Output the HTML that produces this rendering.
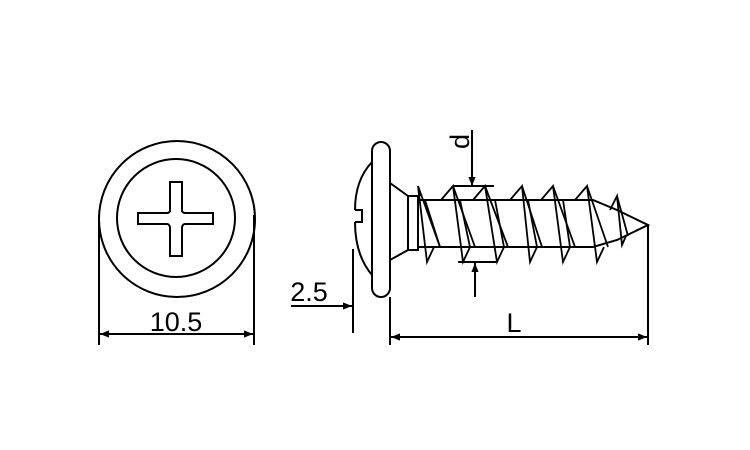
<!DOCTYPE html>
<html><head><style>body{margin:0;background:#fff}svg{display:block}</style></head><body>
<svg width="750" height="450" viewBox="0 0 750 450" xmlns="http://www.w3.org/2000/svg" font-family="Liberation Sans, sans-serif">
<defs>
<marker id="a" viewBox="0 0 10 10" refX="10" refY="5" markerWidth="12" markerHeight="9" markerUnits="userSpaceOnUse" orient="auto-start-reverse"><path d="M0,1 L10,5 L0,9 z" fill="#000"/></marker>
</defs>
<g fill="none" stroke="#000" stroke-width="2">
<circle cx="177" cy="219" r="78"/>
<circle cx="176" cy="218" r="59"/>
<path d="M170,182 H182 V211 Q183,213 185,213 H213 V224 H185 Q183,224 182,227 V256 H170 V227 Q169,224 167,224 H138 V213 H167 Q169,213 170,211 Z"/>
<line x1="99" y1="215" x2="99" y2="345"/>
<line x1="254" y1="215" x2="254" y2="345"/>
<line x1="100" y1="334" x2="253" y2="334" marker-start="url(#a)" marker-end="url(#a)"/>
<rect x="372" y="142" width="18" height="155" rx="9"/>
<path d="M372,162 Q355,180 355,210 M355,222 Q355,255 372,275"/>
<path d="M355,210 H362 V222 H355"/>
<path d="M390,183 L408,196 M390,260 L408,250"/>
<rect x="408" y="196" width="10" height="54"/>
<path d="M418,200 H593 L617,210 L648,225 L617,240 L593,247 H418"/>
<g stroke-width="1.8">
<path d="M420,196 L418,186 L427,262 L434,247 M418,186 L440,247"/>
<path d="M441,200 L453,186 L463,262 L470,247 M453,186 L475,247 M425,200 L440,247"/>
<path d="M473,200 L485,186 L497,262 L504,247 M485,186 L508,247 M460,200 L470,247"/>
<path d="M510,200 L522,186 L530,262 L537,247 M522,186 L542,247 M495,200 L504,247"/>
<path d="M541,200 L553,186 L563,262 L570,247 M553,186 L575,247 M528,200 L537,247"/>
<path d="M575,200 L587,186 L597,262 L604,247 M587,186 L608,247 M563,200 L570,247"/>
<path d="M610,210 L617,196 L622,245 L626,236 M617,196 L628,236"/>
</g>
<line x1="454" y1="186" x2="494" y2="186"/>
<line x1="458" y1="262" x2="496" y2="262"/>
<line x1="472" y1="130" x2="472" y2="186" marker-end="url(#a)"/>
<line x1="475" y1="297" x2="475" y2="263" marker-end="url(#a)"/>
<line x1="390" y1="297" x2="390" y2="345"/>
<line x1="648" y1="225" x2="648" y2="345"/>
<line x1="391" y1="337" x2="647" y2="337" marker-start="url(#a)" marker-end="url(#a)"/>
<line x1="353" y1="249" x2="353" y2="333"/>
<line x1="291" y1="306" x2="352" y2="306" marker-end="url(#a)"/>
</g>
<g font-size="27" fill="#000">
<text x="176" y="331" text-anchor="middle">10.5</text>
<text x="309" y="301" text-anchor="middle">2.5</text>
<text x="514" y="332" text-anchor="middle">L</text>
<text transform="translate(469,149) rotate(-90)" x="0" y="0">d</text>
</g>
</svg>
</body></html>
